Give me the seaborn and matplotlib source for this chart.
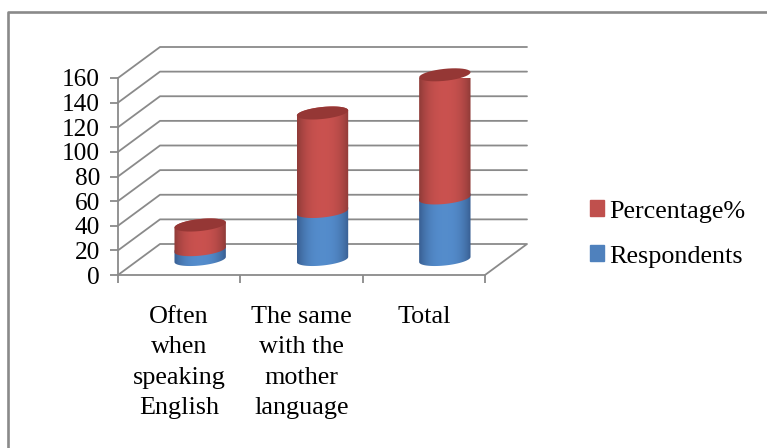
import numpy as np
import seaborn as sns
import matplotlib.pyplot as plt
from matplotlib.lines import Line2D
from matplotlib.patches import Patch, PathPatch
from matplotlib.path import Path
from matplotlib.transforms import IdentityTransform

categories = ['Often\nwhen\nspeaking\nEnglish', 'The same\nwith the\nmother\nlanguage', 'Total']
respondents = [8, 39, 50]
percentage = [20, 80, 100]
y_ticks = list(range(0, 161, 20))

GREY = '#8a8a8a'
W, H = 767, 448

sns.set_style('white')
plt.rcParams['font.family'] = ['Liberation Serif', 'DejaVu Serif']
plt.rcParams['text.color'] = 'black'
plt.rcParams['xtick.labelcolor'] = 'black'
plt.rcParams['ytick.labelcolor'] = 'black'

fig = plt.figure(figsize=(W / 100, H / 100), dpi=100)
ax = fig.add_axes([118 / W, 1 - 275 / H, 367 / W, 197 / H])

# gestapeld: eerst totaal (rood), daarna respondents (blauw) eroverheen
totals = [r + p for r, p in zip(respondents, percentage)]
sns.barplot(x=categories, y=totals, color='#c0504d', width=0.42, saturation=1, ax=ax)
sns.barplot(x=categories, y=respondents, color='#4f81bd', width=0.42, saturation=1, ax=ax)
ax.set_xlim(-0.5, 2.5)
ax.set_ylim(0, 160)
ax.set_yticks(y_ticks)
ax.set_xticks([-0.5, 0.5, 1.5, 2.5], minor=True)
ax.tick_params(axis='y', length=6, width=1.3, color=GREY, labelsize=18.2, pad=7, left=True)
ax.tick_params(axis='x', which='major', length=0, pad=22, labelsize=18.8)
ax.tick_params(axis='x', which='minor', length=6, width=1.3, color=GREY, bottom=True)
for lab in ax.get_xticklabels():
    lab.set_linespacing(1.5)
    lab.set_va('top')
sns.despine(ax=ax)
for side in ['left', 'bottom']:
    ax.spines[side].set_color(GREY)
    ax.spines[side].set_linewidth(1.3)

# kale balken weghalen, de posities blijven bewaard voor de cilinders
bars = [(p.get_x(), p.get_width()) for p in ax.patches[:3]]
for p in list(ax.patches):
    p.set_visible(False)

fig.canvas.draw()
to_px = ax.transData.transform
# diepte van de 3d-doos in pixels (matplotlib y omhoog)
DX, DY = 42, 31


def wall_line(points, lw=1.3):
    xs, ys = zip(*points)
    ax.add_line(Line2D(xs, ys, transform=IdentityTransform(), color=GREY, lw=lw,
                       clip_on=False, zorder=0.5))


# muren en vloer
for v in y_ticks:
    x0, y0 = to_px((-0.5, v))
    x1, _ = to_px((2.5, v))
    if v == 0:
        wall_line([(x0, y0), (x0 + DX, y0 + DY), (x1 + DX, y0 + DY), (x1, y0)])
    else:
        wall_line([(x0, y0), (x0 + DX, y0 + DY), (x1 + DX, y0 + DY)])


def arc(cx, cy, a, b, t0, t1, n=40):
    t = np.linspace(t0, t1, n)
    # ellips iets scheef: rechts hoger dan links
    return np.column_stack([cx + a * np.cos(t), cy + b * np.sin(t) + 0.1 * a * np.cos(t)])


def cylinder(x_left, width, v0, v1, edge, centre):
    left, base = to_px((x_left, v0))
    right, top = to_px((x_left + width, v1))
    left += DX / 2
    right += DX / 2
    base += DY / 2
    top += DY / 2
    cx, a, b = (left + right) / 2, (right - left) / 2, 6
    # onderkant: voorste boog, bovenkant: achterste boog
    verts = np.vstack([arc(cx, base, a, b, np.pi, 2 * np.pi), arc(cx, top, a, b, 0, np.pi)])
    clip = PathPatch(Path(np.vstack([verts, verts[0]])), transform=IdentityTransform(),
                     fc='none', ec='none', clip_on=False)
    ax.add_patch(clip)
    t = np.linspace(-1, 1, 128)
    mix = np.clip(np.abs(t) ** 2.5, 0, 1)[None, :, None]
    img = (1 - mix) * np.array(centre)[None, None, :] + mix * np.array(edge)[None, None, :]
    im = ax.imshow(img, extent=(left, right, base - 15, top + 15), transform=IdentityTransform(),
                   aspect='auto', zorder=2, interpolation='bilinear')
    im.set_clip_path(clip)
    return cx, top, a, b


RED_EDGE, RED_MID = (0.56, 0.23, 0.22), (0.79, 0.32, 0.31)
BLUE_EDGE, BLUE_MID = (0.22, 0.37, 0.57), (0.33, 0.55, 0.80)

for (bx, bw), r, tot in zip(bars, respondents, totals):
    cylinder(bx, bw, 0, r + 1, BLUE_EDGE, BLUE_MID)
    cx, top, a, b = cylinder(bx, bw, r, tot, RED_EDGE, RED_MID)
    cap = arc(cx, top, a, b, 0, 2 * np.pi)
    ax.add_patch(PathPatch(Path(cap), transform=IdentityTransform(), fc='#953735', ec='none',
                           clip_on=False, zorder=3))

ax.set_xlim(-0.5, 2.5)
ax.set_ylim(0, 160)

# legenda
handles = [Patch(color='#c0504d', label='Percentage%'), Patch(color='#4f81bd', label='Respondents')]
fig.legend(handles=handles, loc='center left', bbox_to_anchor=(590 / W, 1 - 234 / H), frameon=False,
           fontsize=18.8, handlelength=0.54, handleheight=0.54, handletextpad=0.2,
           labelspacing=0.88, borderpad=0, borderaxespad=0, labelcolor='black')

# kader: alleen boven en links
fig.add_artist(Line2D([7.5 / W, 7.5 / W, 1], [0, 1 - 12 / H, 1 - 12 / H], transform=fig.transFigure,
                      color=GREY, lw=1.9))

fig.savefig('out.png')
